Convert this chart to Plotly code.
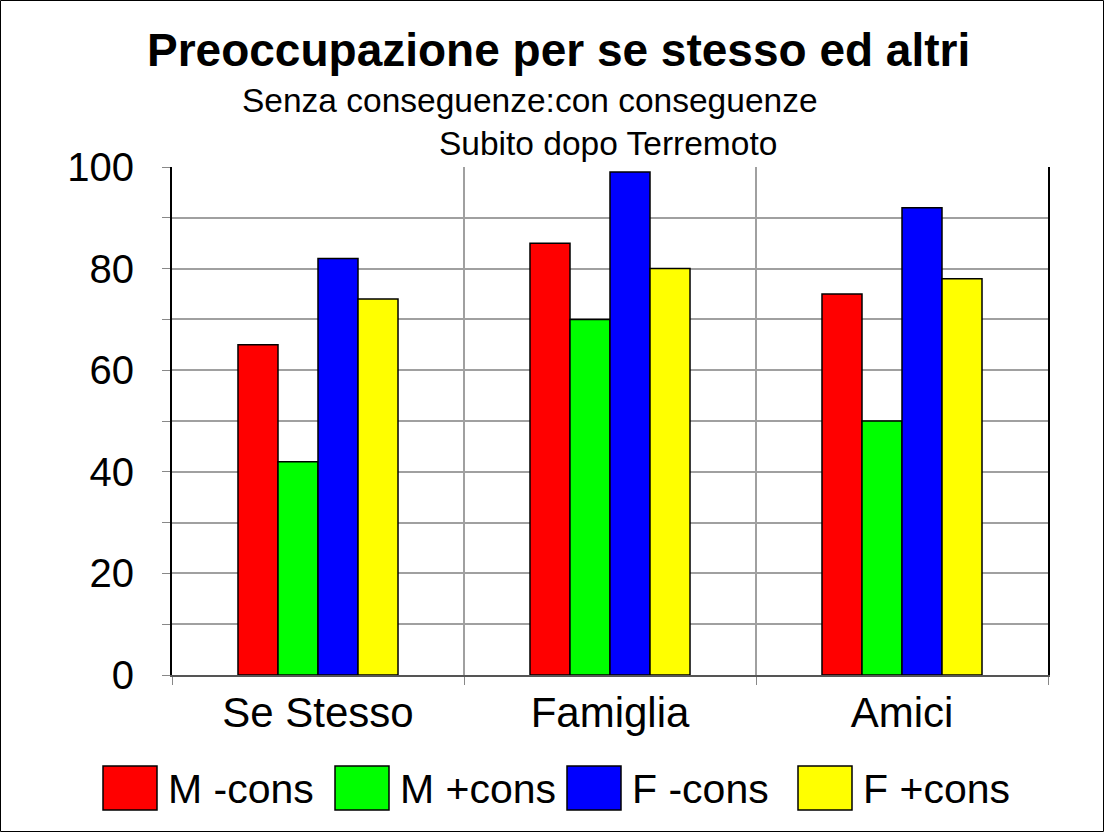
import plotly.graph_objects as go

categories = ["Se Stesso", "Famiglia", "Amici"]
series_names = ["M -cons", "M +cons", "F -cons", "F +cons"]
m_meno = [65, 85, 75]
m_piu = [42, 70, 50]
f_meno = [82, 99, 92]
f_piu = [74, 80, 78]
series_values = [m_meno, m_piu, f_meno, f_piu]
colors = ["#ff0000", "#00ff00", "#0000ff", "#ffff00"]
y_ticks = [0, 20, 40, 60, 80, 100]
y_minor = [10, 30, 50, 70, 90]

W, H = 1104, 832
L, R, T, B = 172, 56, 167, 157
PW, PH = W - L - R, H - T - B
FONT = "Liberation Sans, Arial, sans-serif"


def px(x):
    return (x - L) / PW


def py(y):
    return (H - B - y) / PH


fig = go.Figure()
for name, vals, col in zip(series_names, series_values, colors):
    fig.add_trace(go.Bar(x=categories, y=vals, name=name,
                         marker=dict(color=col, line=dict(color="black", width=1.5)),
                         showlegend=False))

shapes = [dict(type="rect", xref="paper", yref="paper",
               x0=px(0.5), x1=px(W - 0.5), y0=py(H - 0.5), y1=py(0.5),
               line=dict(color="black", width=1), fillcolor="rgba(0,0,0,0)")]
annotations = [
    dict(text="<b>Preoccupazione per se stesso ed altri</b>", x=px(558), y=py(50),
         xref="paper", yref="paper", showarrow=False, xanchor="center", yanchor="middle",
         font=dict(size=46, color="black", family=FONT)),
    dict(text="Senza conseguenze:con conseguenze", x=px(530), y=py(100),
         xref="paper", yref="paper", showarrow=False, xanchor="center", yanchor="middle",
         font=dict(size=33.5, color="black", family=FONT)),
    dict(text="Subito dopo Terremoto", x=px(608), y=py(143),
         xref="paper", yref="paper", showarrow=False, xanchor="center", yanchor="middle",
         font=dict(size=33.5, color="black", family=FONT)),
]

leg_box_x = [103, 335, 567, 798]
for i, (name, col) in enumerate(zip(series_names, colors)):
    x0 = leg_box_x[i]
    shapes.append(dict(type="rect", xref="paper", yref="paper",
                       x0=px(x0), x1=px(x0 + 54), y0=py(810), y1=py(766),
                       fillcolor=col, line=dict(color="black", width=1.5)))
    annotations.append(dict(text=name, x=px(x0 + 63), y=py(789), xref="paper", yref="paper",
                            showarrow=False, xanchor="left", yanchor="middle",
                            font=dict(size=41, color="black", family=FONT)))

fig.update_layout(
    width=W, height=H,
    margin=dict(l=L, r=R, t=T, b=B, pad=0),
    paper_bgcolor="white", plot_bgcolor="white",
    barmode="group", bargap=0.452, bargroupgap=0,
    font=dict(family=FONT, color="black"),
    shapes=shapes, annotations=annotations,
    showlegend=False,
)
fig.update_xaxes(
    showline=True, linecolor="#555555", linewidth=2,
    tickson="boundaries", showgrid=True, gridcolor="#a0a0a0", gridwidth=1.5,
    ticks="outside", ticklen=8, tickcolor="#888888",
    tickfont=dict(size=42, family=FONT, color="black"),
)
fig.update_yaxes(
    range=[0, 100], tickvals=y_ticks, ticktext=[str(v) for v in y_ticks],
    showline=True, linecolor="black", linewidth=2, mirror=True,
    zeroline=False,
    ticks="outside", ticklen=8, tickcolor="#888888",
    ticklabelstandoff=20,
    tickfont=dict(size=40, family=FONT, color="black"),
    minor=dict(tickvals=y_minor, showgrid=True, gridcolor="#a0a0a0", gridwidth=1.5,
               ticks="outside", ticklen=8, tickcolor="#888888"),
    showgrid=True, gridcolor="#a0a0a0", gridwidth=1.5,
)

fig.write_html("out.html", config={"displayModeBar": False},
               post_script="document.body.style.margin='0';document.body.style.overflow='hidden';")
